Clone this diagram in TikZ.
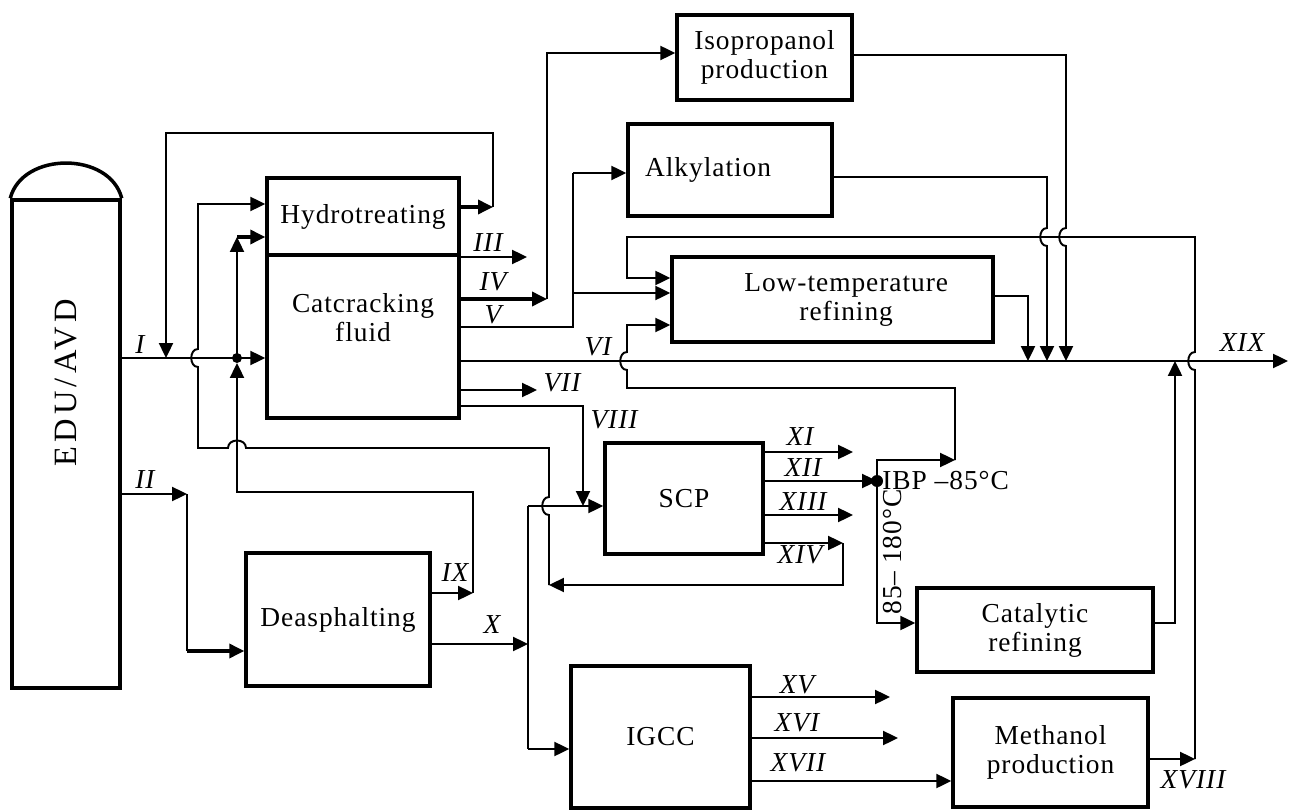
\documentclass[tikz,border=0pt]{standalone}
\usepackage{fontspec}
\setmainfont{Liberation Serif}[LetterSpace=3.5]
\usetikzlibrary{arrows.meta}
\newcommand{\lblsize}{\fontsize{15.6}{16.5}\selectfont}
\tikzset{
    box/.style      ={rectangle, draw=black, line width=2pt, inner sep=0pt, align=center, font=\lblsize},
    boxtext/.style  ={align=center, inner sep=0pt, font=\lblsize},
    flow/.style     ={line width=1.1pt},
    heavyflow/.style={line width=1.8pt},
    flowarrow/.style={flow, -{Triangle[length=8.5pt, width=8pt]}},
    tag/.style      ={inner sep=1pt, font=\lblsize\itshape},
}

\begin{document}
\begin{tikzpicture}[x=0.02cm, y=-0.02cm]
    \useasboundingbox (0,0) rectangle (1290,810);

    % column
    \node[box, minimum width=2.16cm, minimum height=9.76cm] (col) at (66,444) {};
    \node[boxtext, rotate=90, font=\fontsize{18.5}{20}\selectfont\addfontfeature{LetterSpace=13}] (colname) at (66,383) {EDU/AVD};
    \draw[line width=2pt] (col.north west) .. controls +(12,-47) and +(-12,-47) .. (col.north east);

    % process units
    \node[box, minimum width=3.84cm, minimum height=1.54cm] (hyd) at (363,216.5) {Hydrotreating};
    \node[box, minimum width=3.84cm, minimum height=3.26cm] (cat) at (363,336.5) {};
    \node[boxtext] (catname) at (363,318) {Catcracking\\fluid};
    \node[box, minimum width=3.68cm, minimum height=2.66cm] (deasp) at (338,619.5) {Deasphalting};
    \node[box, minimum width=3.16cm, minimum height=2.22cm] (scp) at (684,498.5) {SCP};
    \node[box, minimum width=3.58cm, minimum height=2.84cm] (igcc) at (660.5,737) {IGCC};
    \node[box, minimum width=3.5cm, minimum height=1.7cm] (iso) at (764.5,57.5) {Isopropanol\\production};
    \node[box, minimum width=4.08cm, minimum height=1.84cm] (alk) at (730,170) {Alkylation\hspace*{1.6em}};
    \node[box, minimum width=6.42cm, minimum height=1.7cm] (ltr) at (832.5,299.5) {\hspace*{1em}Low-temperature\\\hspace*{1em}refining};
    \node[box, minimum width=4.72cm, minimum height=1.68cm] (catref) at (1035,630) {Catalytic\\refining};
    \node[box, minimum width=3.9cm, minimum height=2.18cm] (meth) at (1050.5,752.5) {Methanol\\production};

    \coordinate (jn) at (237,358);
    \coordinate (ibp) at (877,481);
    \coordinate (xix) at (1288,361);

    % feed I and II
    \draw[flowarrow] (col.east |- jn) -- (cat.west |- jn);
    \draw[flowarrow] (col.east |- 0,494) -- (187,494);
    \draw[flow] (187,494) -- (187,651);
    \draw[flowarrow, heavyflow] (187,651) -- (deasp.west |- 0,651);

    % recycle over the top
    \draw[flowarrow, heavyflow] (hyd.east |- 0,207) -- (493,207);
    \draw[flowarrow] (493,207) -- (493,133) -- (166,133) -- (166,358);

    % XIV back to hydrotreating
    \draw[flowarrow] (scp.east |- 0,543) -- (843,543);
    \draw[flowarrow] (843,543) -- (843,585) -- (549,585);
    \draw[flowarrow] (549,585) -- (549,515) .. controls (540,515) and (540,497) .. (549,497)
        -- (549,448) -- (246,448) .. controls (246,438) and (228,438) .. (228,448)
        -- (198,448) -- (198,367) .. controls (189,367) and (189,349) .. (198,349)
        -- (198,204) -- (hyd.west |- 0,204);

    % IX to the feed
    \draw[flowarrow] (deasp.east |- 0,593) -- (473,593);
    \draw[flowarrow] (473,593) -- (473,492) -- (237,492) -- (237,363);
    \fill (jn) circle (5);
    \draw[flowarrow] (jn) -- (237,237);
    \draw[flowarrow, heavyflow] (237,237) -- (hyd.west |- 0,237);

    % X to SCP and IGCC
    \draw[flowarrow] (deasp.east |- 0,644) -- (528,644);
    \draw[flow] (528,506) -- (528,749);
    \draw[flowarrow] (528,506) -- (scp.west |- 0,506);
    \draw[flowarrow] (528,749) -- (igcc.west |- 0,749);

    % catcracking products
    \draw[flowarrow] (cat.east |- 0,257) -- (527,257);
    \draw[flowarrow, heavyflow] (cat.east |- 0,299) -- (547,299);
    \draw[flowarrow] (547,299) -- (547,53) -- (iso.west |- 0,53);
    \draw[flow] (cat.east |- 0,327) -- (573,327) -- (573,173);
    \draw[flowarrow] (573,173) -- (alk.west |- 0,173);
    \draw[flowarrow] (573,293) -- (ltr.west |- 0,293);
    \draw[flowarrow] (cat.east |- xix) -- (xix);
    \draw[flowarrow] (cat.east |- 0,390) -- (537,390);
    \draw[flowarrow] (cat.east |- 0,406) -- (583,406) -- (583,506);

    % into the product line
    \draw[flowarrow] (ltr.east |- 0,296) -- (1028,296) -- (1028,361);
    \draw[flowarrow] (alk.east |- 0,177) -- (1047,177) -- (1047,228)
        .. controls (1038,228) and (1038,246) .. (1047,246) -- (1047,361);
    \draw[flowarrow] (iso.east |- 0,55) -- (1066,55) -- (1066,228)
        .. controls (1057,228) and (1057,246) .. (1066,246) -- (1066,361);
    \draw[flowarrow] (catref.east |- 0,623) -- (1175,623) -- (1175,361);

    % methanol recycle to low-temperature refining
    \draw[flowarrow] (meth.east |- 0,759) -- (1195,759);
    \draw[flowarrow] (1195,759) -- (1195,370) .. controls (1186,370) and (1186,352) .. (1195,352)
        -- (1195,237) -- (627,237) -- (627,278) -- (ltr.west |- 0,278);

    % SCP products
    \draw[flowarrow] (scp.east |- 0,452) -- (853,452);
    \draw[flowarrow] (scp.east |- ibp) -- (ibp);
    \fill (ibp) circle (6);
    \draw[flowarrow] (scp.east |- 0,515) -- (853,515);
    \draw[flowarrow] (ibp) -- (877,460) -- (955,460);
    \draw[flowarrow] (955,460) -- (955,388) -- (627,388) -- (627,370)
        .. controls (618,370) and (618,352) .. (627,352) -- (627,325) -- (ltr.west |- 0,325);
    \draw[flowarrow] (ibp) -- (877,623) -- (catref.west |- 0,623);
    \node[boxtext, anchor=west] (ibplbl) at (882,481) {IBP –85°C};
    \node[boxtext, rotate=90] (cutlbl) at (893,552) {85– 180°C};

    % IGCC products
    \draw[flowarrow] (igcc.east |- 0,697) -- (890,697);
    \draw[flowarrow] (igcc.east |- 0,738) -- (898,738);
    \draw[flowarrow] (igcc.east |- 0,781) -- (meth.west |- 0,781);

    % stream numbers
    \foreach \t/\x/\y in {I/140/345, II/145/480, III/488/243, IV/493/282, V/493/315,
        VI/598/347, VII/562/383, VIII/614/420, IX/455/573, X/492/625,
        XI/800/437, XII/803/468, XIII/803/502, XIV/800/555, XV/797/685,
        XVI/797/723, XVII/798/763, XVIII/1193/780, XIX/1242/343} {
        \node[tag] (t\t) at (\x,\y) {\t};
    }
\end{tikzpicture}
\end{document}
